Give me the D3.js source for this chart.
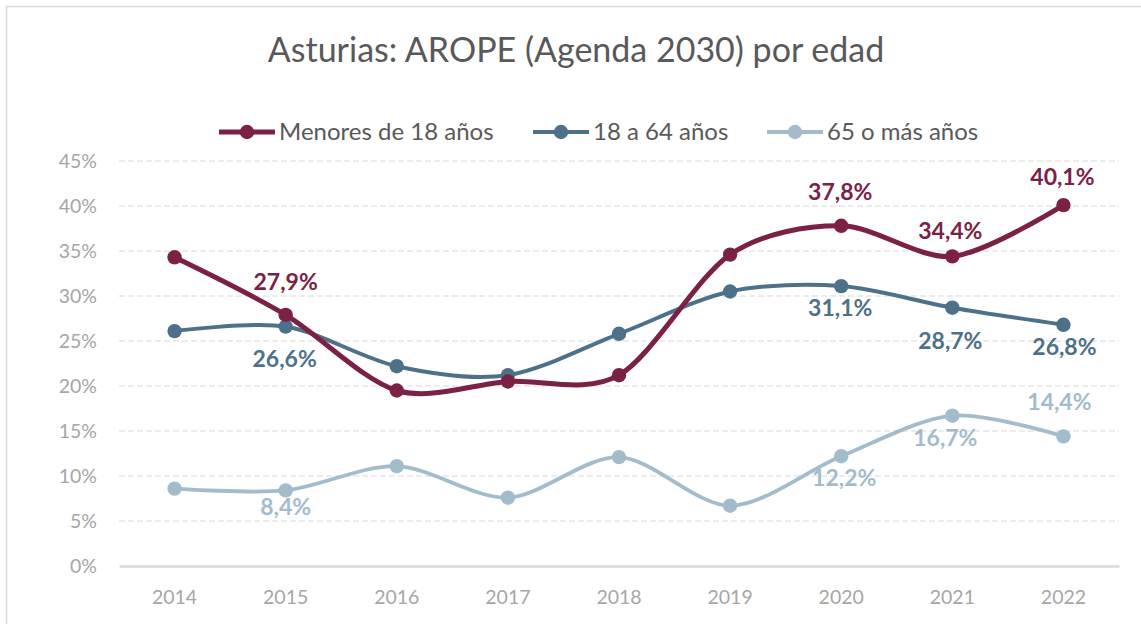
<!DOCTYPE html>
<html><head><meta charset="utf-8">
<script src="https://cdn.jsdelivr.net/npm/d3@7"></script>
<style>
body{margin:0;background:#fff;}
svg{display:block;font-family:Lato,"Open Sans",sans-serif;}
</style></head>
<body><svg id="c" width="1141" height="624"></svg>
<script>
const years = ["2014","2015","2016","2017","2018","2019","2020","2021","2022"];
const seriesNames = ["Menores de 18 años","18 a 64 años","65 o más años"];
const menores = [34.3, 27.9, 19.5, 20.5, 21.2, 34.6, 37.8, 34.4, 40.1];
const adultos = [26.1, 26.6, 22.2, 21.2, 25.8, 30.5, 31.1, 28.7, 26.8];
const mayores = [8.6, 8.4, 11.1, 7.6, 12.1, 6.7, 12.2, 16.7, 14.4];
const yTicks = [0, 5, 10, 15, 20, 25, 30, 35, 40, 45];
const title = "Asturias: AROPE (Agenda 2030) por edad";

// which points carry a value label (series index, year index), with placement
const labelled = [
  {s:0, i:1, dx:0, dy:-33}, {s:0, i:6, dx:-1, dy:-34}, {s:0, i:7, dx:-2, dy:-25}, {s:0, i:8, dx:-1, dy:-28},
  {s:1, i:1, dx:-1, dy:32}, {s:1, i:6, dx:-1, dy:22}, {s:1, i:7, dx:-2, dy:33}, {s:1, i:8, dx:1, dy:22},
  {s:2, i:1, dx:0, dy:17}, {s:2, i:6, dx:3, dy:22}, {s:2, i:7, dx:-7, dy:22}, {s:2, i:8, dx:-4, dy:-34}
];

const colors = ["#7c2146", "#4d7189", "#a3bccc"];
const widths = [5, 4, 3.8];
const data = [menores, adultos, mayores];

const svg = d3.select("#c");
// outer frame
svg.append("rect").attr("x",6.5).attr("y",6.5).attr("width",1160).attr("height",640)
  .attr("fill","none").attr("stroke","#d9d9d9").attr("stroke-width",1.5);

const x = d3.scaleBand().domain(years).range([119,1119]);
const y = d3.scaleLinear().domain([0,45]).range([566,161]);

// gridlines
svg.append("g").selectAll("line").data(yTicks.filter(d=>d>0)).join("line")
  .attr("x1",119).attr("x2",1119)
  .attr("y1",d=>y(d)).attr("y2",d=>y(d))
  .attr("stroke","#d9d9d9").attr("stroke-width",1.2).attr("stroke-dasharray","6,3");

// y axis labels
const yAxis = svg.append("g").attr("transform","translate(97,0)")
  .call(d3.axisLeft(y).tickValues(yTicks).tickSize(0).tickPadding(0).tickFormat(d=>d+"%"));
yAxis.select(".domain").remove();
yAxis.selectAll("text").attr("fill","#a6a6a6").style("font-size","19.5px").style("font-family","Lato,sans-serif");

// x axis
const xAxis = svg.append("g").attr("transform","translate(0,566)")
  .call(d3.axisBottom(x).tickSize(0).tickPadding(24));
xAxis.select(".domain").attr("stroke","#d9d9d9").attr("stroke-width",2.5);
xAxis.selectAll("text").attr("fill","#a6a6a6").style("font-size","19.5px").style("font-family","Lato,sans-serif");

const line = d3.line().x((d,i)=>x(years[i])+x.bandwidth()/2).y(d=>y(d)).curve(d3.curveCardinal.tension(0.1));

// draw series (back to front: mayores first)
[2,1,0].forEach(s=>{
  const g = svg.append("g");
  g.append("path").datum(data[s]).attr("d",line).attr("fill","none")
    .attr("stroke",colors[s]).attr("stroke-width",widths[s]).attr("stroke-linecap","round");
  g.selectAll("circle").data(data[s]).join("circle")
    .attr("cx",(d,i)=>x(years[i])+x.bandwidth()/2).attr("cy",d=>y(d)).attr("r",7.2)
    .attr("fill",colors[s]);
});

// value labels
const fmt = v => v.toFixed(1).replace(".",",")+"%";
svg.append("g").selectAll("text").data(labelled).join("text")
  .attr("x",d=>x(years[d.i])+x.bandwidth()/2+d.dx)
  .attr("y",d=>y(data[d.s][d.i])+d.dy)
  .attr("text-anchor","middle").attr("dy","0.35em")
  .attr("fill",d=>colors[d.s]).style("font-weight","bold").style("font-size","23px")
  .text(d=>fmt(data[d.s][d.i]));

// title
svg.append("text").attr("x",576).attr("y",62).attr("text-anchor","middle")
  .attr("fill","#595959").style("font-size","34px").text(title);

// legend
const legX = [219, 533, 767];
const lg = svg.append("g").selectAll("g").data(seriesNames).join("g")
  .attr("transform",(d,i)=>`translate(${legX[i]},132)`);
lg.append("line").attr("x1",0).attr("x2",56).attr("stroke",(d,i)=>colors[i]).attr("stroke-width",(d,i)=>widths[i]);
lg.append("circle").attr("cx",28).attr("r",7.2).attr("fill",(d,i)=>colors[i]);
lg.append("text").attr("x",60).attr("dy","0.35em").attr("fill","#595959").style("font-size","24px").text(d=>d);
</script></body></html>
